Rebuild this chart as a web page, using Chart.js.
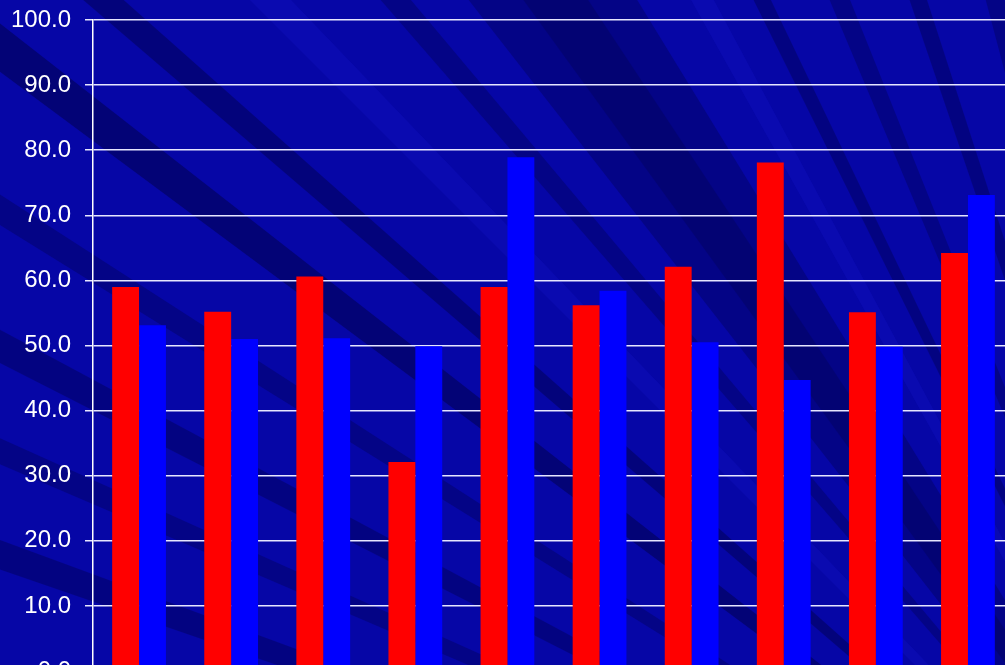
<!DOCTYPE html>
<html>
<head>
<meta charset="utf-8">
<script src="https://cdn.jsdelivr.net/npm/chart.js@4/dist/chart.umd.min.js"></script>
<style>
  html, body { margin: 0; padding: 0; overflow: hidden; background: #0606a6; }
  #wrap { position: absolute; left: 0; top: 0; width: 1030px; height: 700px; }
</style>
</head>
<body>
<div id="wrap"><canvas id="chart"></canvas></div>
<script>
// data
var categories = ['1', '2', '3', '4', '5', '6', '7', '8', '9', '10'];
var redValues  = [59.0, 55.2, 60.6, 32.1, 59.0, 56.2, 62.1, 78.1, 55.1, 64.2];
var blueValues = [53.1, 51.0, 51.1, 49.9, 78.9, 58.4, 50.5, 44.7, 49.8, 73.1];
var yTicks = [0, 10, 20, 30, 40, 50, 60, 70, 80, 90, 100];

// background streaks: thin wedges fanning out from a point past the lower right corner
var streaks = [
    [199.0, 200.2, 'rgba(0,0,60,0.35)'],
    [203.2, 204.2, 'rgba(0,0,60,0.3)'],
    [207.0, 208.2, 'rgba(0,0,60,0.35)'],
    [211.8, 212.8, 'rgba(0,0,60,0.3)'],
    [216.6, 218.0, 'rgba(0,0,60,0.45)'],
    [220.6, 221.6, 'rgba(0,0,60,0.4)'],
    [225.0, 226.2, 'rgba(30,30,220,0.2)'],
    [229.0, 230.0, 'rgba(0,0,60,0.3)'],
    [232.0, 238.5, 'rgba(0,0,60,0.3)'],
    [234.0, 236.5, 'rgba(0,0,60,0.25)'],
    [240.8, 241.8, 'rgba(30,30,220,0.2)'],
    [243.6, 244.4, 'rgba(0,0,60,0.35)'],
    [247.2, 248.2, 'rgba(0,0,60,0.3)'],
    [251.2, 252.1, 'rgba(0,0,60,0.35)'],
    [255.2, 256.2, 'rgba(0,0,60,0.3)']
];

var backdrop = {
    id: 'backdrop',
    beforeDraw: function (chart) {
        var ctx = chart.ctx;
        ctx.save();
        ctx.fillStyle = '#0606a6';
        ctx.fillRect(0, 0, chart.width, chart.height);
        var fx = 1250, fy = 1000, r = 3000;
        streaks.forEach(function (s) {
            var a0 = s[0] * Math.PI / 180, a1 = s[1] * Math.PI / 180;
            ctx.beginPath();
            ctx.moveTo(fx, fy);
            ctx.lineTo(fx + r * Math.cos(a0), fy + r * Math.sin(a0));
            ctx.lineTo(fx + r * Math.cos(a1), fy + r * Math.sin(a1));
            ctx.closePath();
            ctx.fillStyle = s[2];
            ctx.fill();
        });
        ctx.restore();
    }
};

var chart = new Chart(document.getElementById('chart'), {
    type: 'bar',
    data: {
        labels: categories,
        datasets: [{
            label: 'Series 1',
            data: redValues,
            backgroundColor: '#ff0000'
        }, {
            label: 'Series 2',
            data: blueValues,
            backgroundColor: '#0000ff'
        }]
    },
    options: {
        responsive: true,
        maintainAspectRatio: false,
        animation: false,
        categoryPercentage: 0.584,
        barPercentage: 1.0,
        layout: { padding: { left: 0, right: 16, top: 20, bottom: 29 } },
        plugins: {
            legend: { display: false },
            tooltip: { enabled: false }
        },
        scales: {
            x: { display: false },
            y: {
                min: 0,
                max: 100,
                afterBuildTicks: function (axis) {
                    axis.ticks = yTicks.map(function (v) { return { value: v }; });
                },
                afterFit: function (axis) {
                    axis.width = 93;
                    axis.paddingTop = 0;
                    axis.paddingBottom = 0;
                },
                border: { display: true, color: '#ffffff', width: 1.5 },
                grid: {
                    color: '#e6e6ff',
                    lineWidth: 1.5,
                    drawTicks: true,
                    tickLength: 8,
                    tickColor: '#e6e6ff'
                },
                ticks: {
                    padding: 14,
                    color: '#ffffff',
                    font: { family: "'Liberation Sans', Arial, sans-serif", size: 24 },
                    callback: function (v) { return Number(v).toFixed(1); }
                }
            }
        }
    },
    plugins: [backdrop]
});
</script>
</body>
</html>
